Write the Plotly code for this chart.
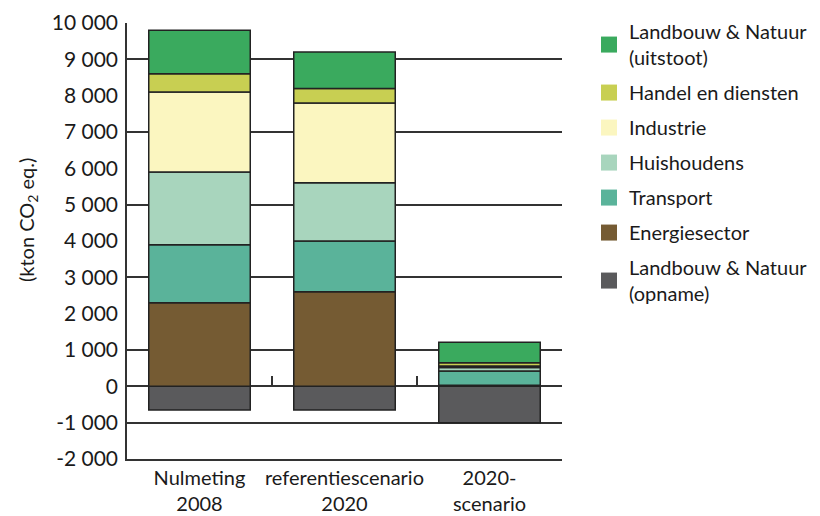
import plotly.graph_objects as go

categories = ["Nulmeting<br>2008", "referentiescenario<br>2020", "2020-<br>scenario"]

energiesector = [2300, 2600, 30]
transport = [1600, 1400, 390]
huishoudens = [2000, 1600, 100]
industrie = [2200, 2200, 40]
handel = [500, 400, 90]
landbouw_uitstoot = [1200, 1000, 560]
landbouw_opname = [-650, -650, -1000]

# stacking order (bottom to top)
series = [
    ("Landbouw & Natuur<br>(opname)", landbouw_opname, "#5a5a5c"),
    ("Energiesector", energiesector, "#755b33"),
    ("Transport", transport, "#5ab39a"),
    ("Huishoudens", huishoudens, "#a8d5bd"),
    ("Industrie", industrie, "#fbf6c0"),
    ("Handel en diensten", handel, "#c8cf52"),
    ("Landbouw & Natuur<br>(uitstoot)", landbouw_uitstoot, "#3aaa5e"),
]

ytick_vals = list(range(-2000, 10001, 1000))
ytick_text = ["-2 000", "-1 000", "0", "1 000", "2 000", "3 000", "4 000",
              "5 000", "6 000", "7 000", "8 000", "9 000", "10 000"]
grid_vals = [-1000, 1000, 3000, 5000, 7000, 9000]

FONT = "Lato"
fig = go.Figure()

for name, vals, color in series:
    fig.add_trace(go.Bar(
        x=categories, y=vals, name=name, marker_color=color,
        marker_line_color="#222222", marker_line_width=1.5,
        width=0.7, showlegend=False, hoverinfo="skip",
    ))

# legend entries, top to bottom
for i, (name, vals, color) in enumerate(reversed(series)):
    fig.add_trace(go.Scatter(
        x=[None], y=[None], mode="markers", name=name,
        marker=dict(symbol="square", size=17, color=color),
        legendgroup=f"g{i}", showlegend=True, hoverinfo="skip",
    ))

# overlay axes for gridlines at odd thousands and zero-line ticks
fig.add_trace(go.Scatter(x=[None], y=[None], xaxis="x2", yaxis="y2",
                         showlegend=False, hoverinfo="skip", mode="markers"))

fig.update_layout(
    width=812, height=508,
    margin=dict(l=119, r=258, t=15, b=57, autoexpand=False),
    paper_bgcolor="white", plot_bgcolor="white",
    barmode="relative",
    font=dict(family=FONT, size=20, color="#1a1a1a"),
    xaxis=dict(
        showline=True, linecolor="#333333", linewidth=1.5,
        showgrid=False, ticks="", tickfont=dict(size=20),
        range=[-0.5, 2.5], automargin=False,
    ),
    yaxis=dict(
        range=[-2000, 10000], tickvals=ytick_vals, ticktext=ytick_text,
        showgrid=False, zeroline=True, zerolinecolor="#333333", zerolinewidth=1.5,
        showline=True, linecolor="#333333", linewidth=1.5,
        ticks="", tickfont=dict(size=21), ticklabelstandoff=3, automargin=False,
    ),
    xaxis2=dict(
        overlaying="x", anchor="free", position=2000 / 12000, side="bottom",
        range=[-0.5, 2.5], tickvals=[0.5, 1.5, 2.5], ticks="inside",
        ticklen=10, tickwidth=1.5, tickcolor="#333333",
        showticklabels=False, showgrid=False, zeroline=False, showline=False,
        automargin=False,
    ),
    yaxis2=dict(
        overlaying="y", anchor="x", range=[-2000, 10000], tickvals=grid_vals,
        showgrid=True, gridcolor="#333333", gridwidth=1.5,
        showticklabels=False, zeroline=False, showline=False, ticks="",
        automargin=False,
    ),
    legend=dict(
        xref="container", yref="container", x=0.7155, y=0.992,
        xanchor="left", yanchor="top", traceorder="grouped",
        tracegroupgap=6, itemsizing="trace", maxheight=500,
        font=dict(size=20, family=FONT), bgcolor="rgba(0,0,0,0)",
    ),
    annotations=[dict(
        text="(kton CO<sub>2</sub> eq.)", textangle=-90,
        xref="paper", yref="paper", x=-0.2299, y=0.548,
        xanchor="center", yanchor="middle", showarrow=False,
        font=dict(size=20, family=FONT),
    )],
)

fig.write_html("out.html")
